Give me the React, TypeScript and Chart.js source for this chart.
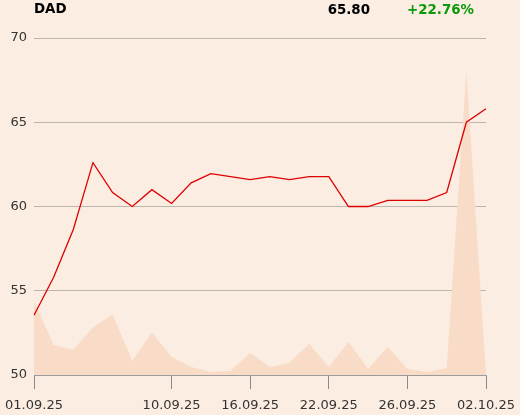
import React, { useEffect, useRef } from "react";
import { Chart, registerables } from "chart.js";

Chart.register(...registerables);

const dates = [
  "01.09.25", "02.09.25", "03.09.25", "04.09.25", "05.09.25", "08.09.25",
  "09.09.25", "10.09.25", "11.09.25", "12.09.25", "15.09.25", "16.09.25",
  "17.09.25", "18.09.25", "19.09.25", "22.09.25", "23.09.25", "24.09.25",
  "25.09.25", "26.09.25", "29.09.25", "30.09.25", "01.10.25", "02.10.25",
];
const shownLabels = ["01.09.25", "10.09.25", "16.09.25", "22.09.25", "26.09.25", "02.10.25"];
const prices = [
  53.55, 55.8, 58.64, 62.6, 60.83, 60.0, 61.0, 60.18, 61.4, 61.95, 61.77, 61.6,
  61.77, 61.6, 61.77, 61.77, 60.0, 60.0, 60.36, 60.36, 60.36, 60.83, 65.0, 65.8,
];
const volumes = [
  73, 30, 25, 47, 60, 14, 42, 18, 8, 3, 4, 22,
  8, 12, 31, 8, 33, 6, 28, 6, 3, 7, 301, 1,
];
const yTicks = [50, 55, 60, 65, 70];
const title = "DAD";
const lastPrice = "65.80";
const change = "+22.76%";

const BG = "#fbede1";

export default function App() {
  const ref = useRef<HTMLCanvasElement>(null);
  useEffect(() => {
    document.body.style.margin = "0";
    const titlePlugin = {
      id: "titlePlugin",
      afterDraw(chart: any) {
        const ctx = chart.ctx;
        ctx.save();
        ctx.font = "bold 13.4px 'DejaVu Sans'";
        ctx.textBaseline = "middle";
        ctx.fillStyle = "#000";
        ctx.textAlign = "left";
        ctx.fillText(title, 34, 10);
        ctx.textAlign = "right";
        ctx.fillText(lastPrice, 370, 11);
        ctx.fillStyle = "#0a9a0a";
        ctx.fillText(change, 474, 11);
        ctx.restore();
      },
    };
    const chart = new Chart(ref.current!, {
      type: "line",
      data: {
        labels: dates,
        datasets: [
          {
            data: prices,
            borderColor: "#dd0000",
            borderWidth: 1.3,
            pointRadius: 0,
            tension: 0,
            fill: false,
            yAxisID: "y",
            order: 0,
          },
          {
            data: volumes,
            borderWidth: 0,
            borderColor: "rgba(0,0,0,0)",
            backgroundColor: "#f8dcc7",
            pointRadius: 0,
            tension: 0,
            fill: "origin",
            yAxisID: "y1",
            order: 1,
          },
        ],
      },
      options: {
        animation: false,
        responsive: false,
        maintainAspectRatio: false,
        layout: { padding: { top: 38, right: 34, left: 0, bottom: 0 } },
        plugins: { legend: { display: false }, tooltip: { enabled: false } },
        scales: {
          x: {
            type: "category",
            offset: false,
            afterFit: (s: any) => { s.height = 40; },
            border: { display: true, color: "#9a9a9a", width: 1 },
            grid: {
              drawOnChartArea: false,
              drawTicks: true,
              tickLength: 14,
              color: "#8a8a8a",
            },
            ticks: {
              autoSkip: false,
              maxRotation: 0,
              minRotation: 0,
              padding: 2,
              color: "#333",
              font: { family: "'DejaVu Sans'", size: 13, lineHeight: 2.25 },
              callback: function (this: any, _v: any, i: number) {
                const l = dates[i];
                return shownLabels.includes(l) ? l : null;
              },
            },
          },
          y: {
            position: "left",
            min: 50,
            max: 70,
            afterFit: (s: any) => { s.width = 34; },
            afterBuildTicks: (s: any) => { s.ticks = yTicks.map((v) => ({ value: v })); },
            border: { display: false },
            grid: { color: "#bdb6ae", lineWidth: 1, drawTicks: false },
            ticks: {
              padding: 7,
              color: "#333",
              font: { family: "'DejaVu Sans'", size: 13 },
            },
          },
          y1: {
            display: false,
            min: 0,
            max: 334,
          },
        },
      },
      plugins: [titlePlugin],
    });
    return () => chart.destroy();
  }, []);
  return (
    <div style={{ width: 520, height: 415, background: BG }}>
      <canvas ref={ref} width={520} height={415} style={{ display: "block" }} />
    </div>
  );
}
